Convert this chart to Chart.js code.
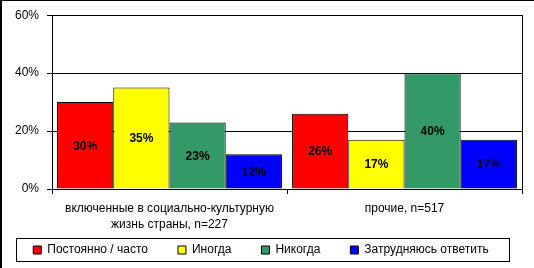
<!DOCTYPE html>
<html>
<head>
<meta charset="utf-8">
<script src="https://cdn.jsdelivr.net/npm/chart.js@4/dist/chart.umd.min.js"></script>
<style>
  html, body { margin: 0; padding: 0; background: #fff; }
  #wrap { width: 534px; height: 268px; }
</style>
</head>
<body>
<div id="wrap"><canvas id="chart" width="534" height="268"></canvas></div>
<script>
// ====== DATA ======
const categories = [
    ['включенные в социально-культурную', 'жизнь страны, n=227'],
    'прочие, n=517',
]
const seriesNames = ['Постоянно / часто', 'Иногда', 'Никогда', 'Затрудняюсь ответить']
const oftenValues = [30, 26]
const sometimesValues = [35, 17]
const neverValues = [23, 40]
const unsureValues = [12, 17]
const yTickMin = 0
const yTickMax = 60
const yTickStep = 20

const seriesColors = ['#FF0000', '#FFFF00', '#339966', '#0000FF']
const seriesValues = [oftenValues, sometimesValues, neverValues, unsureValues]

Chart.defaults.font.family = 'Arial, "Liberation Sans", sans-serif'
Chart.defaults.font.size = 12
Chart.defaults.color = '#000'

// ====== PLUGINS ======
// value labels in the middle of each bar
const barValues = {
    id: 'barValues',
    afterDatasetsDraw(chart) {
        const { ctx } = chart
        ctx.save()
        ctx.font = 'bold 12px Arial, "Liberation Sans", sans-serif'
        ctx.fillStyle = '#000'
        ctx.textAlign = 'center'
        ctx.textBaseline = 'middle'
        chart.data.datasets.forEach((ds, i) => {
            chart.getDatasetMeta(i).data.forEach((bar, j) => {
                ctx.fillText(ds.data[j] + '%', bar.x, (bar.y + bar.base) / 2 + 1)
            })
        })
        ctx.restore()
    },
}

// the x axis is squeezed so the labels sit in the legend's empty top padding,
// let its labels draw past the squeezed box
const xLabelRoom = {
    id: 'xLabelRoom',
    afterLayout(chart) {
        chart.scales.x.bottom = chart.height
    },
}

// outer frame + box round the legend
const frames = {
    id: 'frames',
    beforeDraw(chart) {
        const { ctx, width, height } = chart
        ctx.save()
        ctx.fillStyle = '#fff'
        ctx.fillRect(0, 0, width, height)
        ctx.restore()
    },
    afterDraw(chart) {
        const { ctx, width, height } = chart
        ctx.save()
        ctx.fillStyle = '#000'
        ctx.fillRect(0, 0, width, 1)
        ctx.fillRect(0, 0, 2, height)
        const hb = chart.legend.legendHitBoxes
        if (hb && hb.length) {
            const first = hb[0]
            const last = hb[hb.length - 1]
            const cy = Math.round(first.top + first.height / 2)
            const x0 = Math.round(first.left - 17) + 0.5
            const x1 = Math.round(last.left + last.width + 20) + 0.5
            ctx.strokeStyle = '#000'
            ctx.lineWidth = 1
            ctx.strokeRect(x0, cy - 12 + 0.5, x1 - x0, 23)
        }
        ctx.restore()
    },
}

// ====== CHART ======
const ctx = document.getElementById('chart').getContext('2d')
const chart = new Chart(ctx, {
    type: 'bar',
    data: {
        labels: categories,
        datasets: seriesNames.map((name, i) => ({
            label: name,
            data: seriesValues[i],
            backgroundColor: seriesColors[i],
            borderColor: '#000',
            borderWidth: 1,
            barPercentage: 1,
            categoryPercentage: 0.957,
        })),
    },
    options: {
        responsive: false,
        animation: false,
        layout: { padding: { top: 14, left: 0, right: 12, bottom: 2 } },
        scales: {
            x: {
                grid: {
                    offset: true,
                    drawOnChartArea: false,
                    drawTicks: true,
                    tickLength: 5,
                    color: '#000',
                },
                border: { color: '#000', width: 1 },
                ticks: {
                    color: '#000',
                    padding: 7,
                    maxRotation: 0,
                    autoSkip: false,
                    font: { size: 12, lineHeight: 1.34 },
                },
                afterFit: (scale) => {
                    scale.height = 25
                },
            },
            y: {
                min: yTickMin,
                max: yTickMax,
                ticks: {
                    stepSize: yTickStep,
                    color: '#000',
                    padding: 8,
                    callback: (v) => v + '%',
                },
                grid: { color: '#000', tickLength: 5 },
                border: { color: '#000', width: 1 },
                afterFit: (scale) => {
                    scale.width = 52
                },
            },
            yRight: {
                position: 'right',
                min: yTickMin,
                max: yTickMax,
                ticks: { display: false },
                grid: { display: false, drawTicks: false },
                border: { color: '#000', width: 1 },
                afterFit: (scale) => {
                    scale.width = 0
                },
            },
        },
        plugins: {
            legend: {
                position: 'bottom',
                labels: {
                    boxWidth: 8,
                    boxHeight: 8,
                    padding: 30,
                    color: '#000',
                    font: { size: 12 },
                },
            },
            tooltip: { enabled: false },
        },
    },
    plugins: [barValues, xLabelRoom, frames],
})
</script>
</body>
</html>
